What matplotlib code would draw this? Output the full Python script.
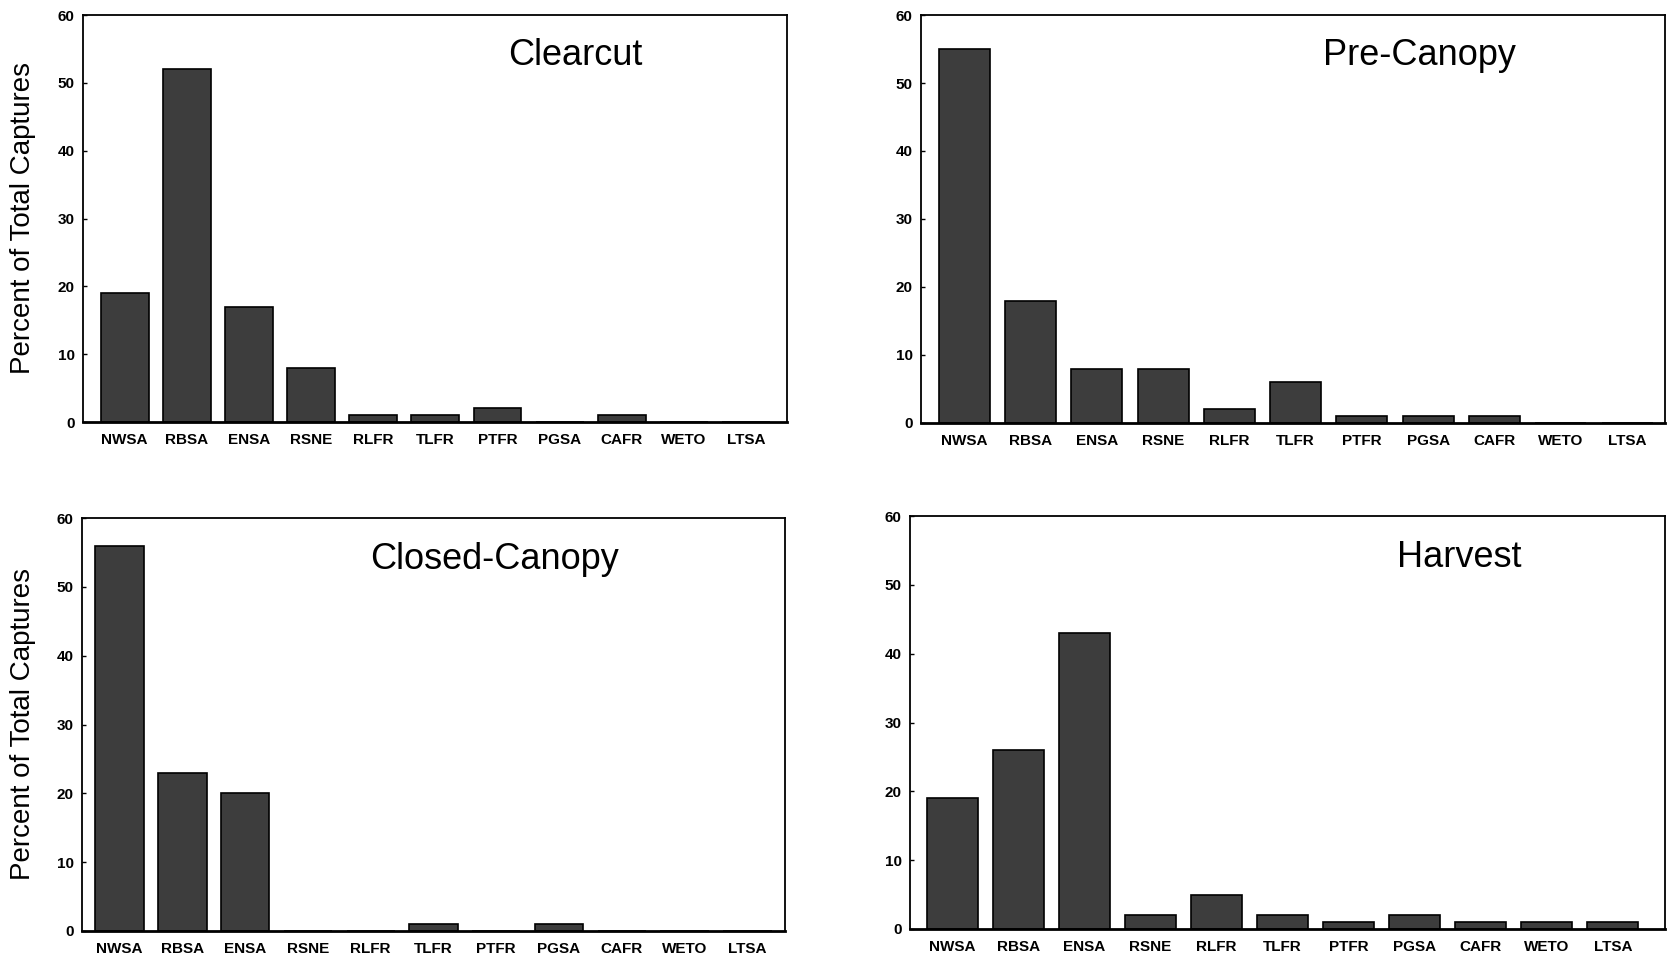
import matplotlib
matplotlib.use('Agg')
import matplotlib.pyplot as plt

species = ['NWSA', 'RBSA', 'ENSA', 'RSNE', 'RLFR', 'TLFR', 'PTFR', 'PGSA', 'CAFR', 'WETO', 'LTSA']

clearcut = [19, 52, 17, 8, 1, 1, 2, 0, 1, 0, 0]
pre_canopy = [55, 18, 8, 8, 2, 6, 1, 1, 1, 0, 0]
closed_canopy = [56, 23, 20, 0, 0, 1, 0, 1, 0, 0, 0]
harvest = [19, 26, 43, 2, 5, 2, 1, 2, 1, 1, 1]

titles = ['Clearcut', 'Pre-Canopy', 'Closed-Canopy', 'Harvest']
yticks = [0, 10, 20, 30, 40, 50, 60]

tick_font = ['Liberation Sans Narrow', 'Liberation Sans', 'DejaVu Sans']


def main():
	plt.rcParams['font.family'] = ['Liberation Sans', 'DejaVu Sans']
	fig = plt.figure(figsize=(16.67, 9.59), dpi=100)

	# axes boxes in pixels: left, top, right, bottom
	W, H = 1667.0, 959.0
	boxes = [(83, 15, 787, 422), (921, 15, 1665, 423),
			 (82, 518, 785, 931), (910, 516, 1665, 929)]
	xlims = [(-0.67, 10.66), (-0.65, 10.57), (-0.6, 10.6), (-0.64, 10.79)]
	title_pos = [(0.70, 0.90), (0.67, 0.90), (0.587, 0.90), (0.728, 0.90)]
	data = [clearcut, pre_canopy, closed_canopy, harvest]

	for i in range(4):
		l, t, r, b = boxes[i]
		ax = fig.add_axes([l / W, 1 - b / H, (r - l) / W, (b - t) / H])
		ax.bar(range(len(species)), data[i], width=0.77, color='#3d3d3d',
			   edgecolor='black', linewidth=1.2)
		ax.set_xlim(*xlims[i])
		ax.set_ylim(0, 60)
		ax.set_yticks(yticks)
		ax.set_xticks(range(len(species)))
		ax.set_xticklabels(species)
		ax.tick_params(axis='x', length=0, pad=8)
		ax.tick_params(axis='y', direction='in', length=3, width=1, pad=6)
		for lab in ax.get_xticklabels() + ax.get_yticklabels():
			lab.set_fontfamily(tick_font)
			lab.set_fontweight('bold')
			lab.set_fontsize(11)
		for s in ax.spines.values():
			s.set_linewidth(1.3)
		ax.spines['bottom'].set_linewidth(2)
		tx, ty = title_pos[i]
		ax.text(tx, ty, titles[i], transform=ax.transAxes, ha='center',
				va='center', fontsize=26)

	# y labels for the left column
	for l, t, r, b in [boxes[0], boxes[2]]:
		fig.text(23 / W, 1 - (t + b) / 2 / H, 'Percent of Total Captures',
				 rotation=90, ha='center', va='center', fontsize=20)

	plt.savefig('out.png', dpi=100)


if __name__ == '__main__':
	main()
